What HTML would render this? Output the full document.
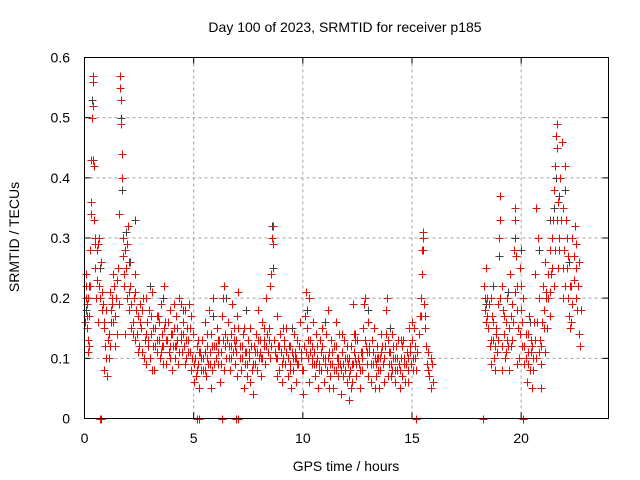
<!DOCTYPE html>
<html><head><meta charset="utf-8"><style>
body{margin:0;background:#fff}
svg{display:block;font-family:"Liberation Sans",sans-serif}
</style></head><body>
<svg id="chart" width="640" height="480">
<text x="345" y="32" font-size="14" text-anchor="middle" fill="#000">Day 100 of 2023, SRMTID for receiver p185</text>
<text x="346" y="471" font-size="14" text-anchor="middle" fill="#000">GPS time / hours</text>
<text transform="translate(19,237) rotate(-90)" font-size="14" text-anchor="middle" fill="#000">SRMTID / TECUs</text>
<g id="grid"></g>
<g id="ticks"></g>
<g id="gray"></g>
<g id="red"></g>
<rect x="84.5" y="57.5" width="524" height="361" fill="none" stroke="#000" stroke-width="1"/>
</svg>
<script>
const xTicks=[0,5,10,15,20];
const yTicks=[0,0.1,0.2,0.3,0.4,0.5,0.6];
const yTickLabels=["0","0.1","0.2","0.3","0.4","0.5","0.6"];
const redA=[[0.02,0.16],[0.05,0.22],[0.08,0.24],[0.1,0.15],[0.12,0.19],[0.15,0.13],[0.18,0.2],[0.2,0.17],[0.22,0.12],[0.25,0.28],[0.28,0.34],[0.3,0.36],[0.32,0.43],[0.35,0.5],[0.37,0.57],[0.38,0.56],[0.4,0.52],[0.42,0.42],[0.45,0.33],[0.48,0.25],[0.5,0.3],[0.55,0.28],[0.6,0.29],[0.65,0.22],[0.7,0.2],[0.75,0.26],[0.8,0.18],[0.85,0.19],[0.9,0.15],[0.95,0.12],[1.0,0.1],[1.05,0.07],[1.1,0.14],[1.15,0.21],[1.2,0.18],[1.25,0.2],[1.3,0.16],[1.35,0.22],[1.4,0.12],[1.45,0.2],[1.5,0.14],[1.55,0.25],[1.6,0.34],[1.62,0.57],[1.64,0.55],[1.66,0.53],[1.68,0.49],[1.7,0.44],[1.72,0.4],[1.75,0.3],[1.78,0.27],[1.8,0.22],[1.85,0.28],[1.9,0.25],[1.95,0.2],[2.0,0.32],[2.05,0.18],[2.1,0.22],[2.15,0.15],[2.2,0.16],[2.25,0.2],[2.3,0.13],[2.35,0.18],[2.4,0.14],[2.45,0.17],[2.5,0.12],[2.55,0.19],[0.15,0.11],[0.6,0.16],[0.9,0.08],[1.1,0.1],[1.3,0.24],[1.85,0.14],[2.05,0.26],[2.3,0.24]];
const redB=[[2.6,0.15],[2.65,0.11],[2.7,0.2],[2.75,0.13],[2.8,0.09],[2.85,0.16],[2.9,0.12],[2.95,0.18],[3.0,0.1],[3.05,0.14],[3.1,0.21],[3.15,0.12],[3.2,0.08],[3.25,0.15],[3.3,0.11],[3.35,0.17],[3.4,0.13],[3.45,0.1],[3.5,0.19],[3.55,0.14],[3.6,0.12],[3.65,0.22],[3.7,0.16],[3.75,0.09],[3.8,0.13],[3.85,0.11],[3.9,0.18],[3.95,0.14],[4.0,0.08],[4.05,0.12],[4.1,0.15],[4.15,0.1],[4.2,0.17],[4.25,0.13],[4.3,0.09],[4.35,0.2],[4.4,0.14],[4.45,0.11],[4.5,0.16],[4.55,0.12],[4.6,0.18],[4.65,0.1],[4.7,0.15],[4.75,0.13],[4.8,0.19],[4.85,0.11],[4.9,0.08],[4.95,0.14],[5.0,0.06],[5.05,0.1],[5.1,0.07],[5.15,0.12],[5.2,0.09],[5.25,0.05],[5.3,0.11],[5.35,0.08],[5.4,0.13],[5.45,0.1],[5.5,0.16],[5.55,0.07],[5.6,0.12],[5.65,0.09],[5.7,0.18],[5.75,0.11],[5.8,0.14],[5.85,0.08],[5.9,0.2],[5.95,0.12],[6.0,0.1],[6.05,0.15],[6.1,0.09],[6.15,0.13],[6.2,0.06],[6.25,0.11],[6.3,0.17],[6.35,0.2],[6.4,0.22],[6.45,0.14],[6.5,0.1],[6.55,0.16],[6.6,0.12],[6.65,0.08],[6.7,0.14],[6.75,0.19],[6.8,0.11],[6.85,0.15],[6.9,0.09],[6.95,0.13],[7.0,0.17],[7.05,0.21],[7.1,0.12],[7.15,0.08],[7.2,0.1],[7.25,0.14],[7.3,0.05],[7.35,0.09],[7.4,0.11],[7.45,0.07],[7.5,0.13],[7.55,0.1],[7.6,0.15],[7.65,0.08],[7.7,0.04],[7.75,0.12],[7.8,0.09],[7.85,0.14],[7.9,0.11],[7.95,0.18],[8.0,0.1],[8.05,0.13],[8.1,0.07],[8.15,0.16],[8.2,0.12],[8.25,0.09],[8.3,0.2],[8.35,0.14],[8.4,0.11],[8.45,0.15],[8.5,0.22],[8.55,0.24],[8.6,0.3],[8.62,0.32],[8.65,0.29],[8.7,0.13],[8.75,0.1],[8.8,0.17],[8.85,0.12],[8.9,0.08],[8.95,0.14],[9.0,0.11],[9.05,0.06],[9.1,0.1],[9.15,0.13],[9.2,0.09],[9.25,0.15],[9.3,0.07],[9.35,0.12],[9.4,0.09],[9.45,0.05],[9.5,0.11],[9.55,0.08],[9.6,0.14],[9.65,0.1],[9.7,0.06],[9.75,0.13],[9.8,0.09],[9.85,0.16],[9.9,0.11],[9.95,0.08],[10.0,0.04],[10.05,0.12],[10.1,0.17],[10.15,0.21],[10.2,0.15],[10.25,0.1],[10.3,0.2],[10.35,0.13],[10.4,0.09],[10.45,0.16],[10.5,0.11],[10.55,0.07],[10.6,0.14],[10.65,0.1],[10.7,0.05],[10.75,0.09],[10.8,0.13],[10.85,0.08],[10.9,0.12],[10.95,0.06],[11.0,0.1],[11.05,0.14],[11.1,0.08],[11.15,0.18],[11.2,0.11],[11.25,0.07],[11.3,0.13],[11.35,0.09],[11.4,0.05],[11.45,0.12],[11.5,0.16],[11.55,0.1],[11.6,0.07],[11.65,0.14],[11.7,0.09],[11.75,0.04],[11.8,0.11],[11.85,0.07],[11.9,0.13],[11.95,0.1],[12.0,0.06],[12.05,0.09],[12.1,0.03],[12.15,0.08],[12.2,0.12],[12.25,0.06],[12.3,0.19],[12.35,0.14],[12.4,0.1],[12.45,0.07],[12.5,0.13],[12.55,0.09],[12.6,0.05],[12.65,0.11],[12.7,0.08],[12.75,0.15],[12.8,0.19],[12.85,0.2],[12.9,0.12],[12.95,0.09],[13.0,0.16],[13.05,0.11],[13.1,0.06],[13.15,0.13],[13.2,0.09],[13.25,0.15],[13.3,0.1],[13.35,0.07],[13.4,0.12],[13.45,0.08],[13.5,0.05],[13.55,0.1],[13.6,0.14],[13.65,0.09],[13.7,0.06],[13.75,0.12],[13.8,0.18],[13.85,0.2],[13.9,0.13],[13.95,0.09],[14.0,0.11],[14.05,0.07],[14.1,0.14],[14.15,0.1],[14.2,0.06],[14.25,0.12],[14.3,0.08],[14.35,0.13],[14.4,0.09],[14.45,0.05],[14.5,0.1],[14.55,0.07],[14.6,0.13],[14.65,0.09],[14.7,0.06],[14.75,0.11],[14.8,0.08],[14.85,0.15],[14.9,0.12],[14.95,0.09],[15.0,0.13],[15.05,0.1],[15.1,0.15],[15.15,0.12],[15.2,0.08],[15.25,0.11],[15.3,0.14],[15.35,0.17],[15.4,0.2],[15.45,0.24],[15.48,0.28],[15.5,0.31],[15.52,0.3],[15.55,0.19],[15.6,0.15],[15.65,0.12],[15.7,0.09],[15.75,0.11],[15.8,0.07],[15.85,0.05],[15.9,0.09],[15.95,0.06]];
const redC=[[2.8,0.2],[3.1,0.08],[3.3,0.17],[3.6,0.09],[3.9,0.1],[4.2,0.12],[4.4,0.19],[4.6,0.09],[4.9,0.17],[5.2,0.13],[5.5,0.08],[5.8,0.05],[6.1,0.13],[6.4,0.08],[6.7,0.1],[7.0,0.07],[7.3,0.15],[7.6,0.06],[7.9,0.08],[8.2,0.15],[8.5,0.1],[8.8,0.07],[9.1,0.15],[9.4,0.12],[9.7,0.1],[10.0,0.08],[10.3,0.06],[10.6,0.09],[10.9,0.15],[11.2,0.05],[11.5,0.08],[11.8,0.14],[12.1,0.1],[12.2,0.05],[12.4,0.13],[12.7,0.11],[13.0,0.07],[13.3,0.05],[13.6,0.11],[13.9,0.07],[14.2,0.1],[14.5,0.13],[14.8,0.06],[15.0,0.16],[3.5,0.11],[4.1,0.19],[5.6,0.1],[6.9,0.12],[8.1,0.1],[9.3,0.1],[10.4,0.12],[11.6,0.1],[12.0,0.12],[12.3,0.09],[13.4,0.1],[14.1,0.08]];
const redE=[[0.07,0.2],[0.13,0.17],[0.27,0.22],[0.47,0.29],[0.52,0.2],[0.57,0.23],[0.68,0.3],[0.78,0.21],[0.88,0.16],[0.98,0.18],[1.08,0.13],[1.18,0.12],[1.28,0.19],[1.38,0.17],[1.48,0.23],[1.58,0.19],[1.83,0.24],[1.93,0.29],[2.03,0.21],[2.13,0.19],[2.23,0.14],[2.33,0.21],[2.43,0.11],[2.53,0.16],[2.63,0.18],[2.73,0.1],[2.83,0.14],[2.93,0.13],[3.03,0.17],[3.13,0.15],[3.23,0.12],[3.33,0.13],[3.43,0.16],[3.53,0.12],[3.63,0.15],[3.73,0.13],[3.83,0.16],[3.93,0.12],[4.03,0.14],[4.13,0.12],[4.23,0.15],[4.33,0.11],[4.43,0.13],[4.53,0.14],[4.63,0.13],[4.73,0.11],[4.83,0.15],[4.93,0.1],[5.03,0.09],[5.13,0.08],[5.23,0.11],[5.33,0.1],[5.43,0.08],[5.53,0.11],[5.63,0.14],[5.73,0.09],[5.83,0.12],[5.93,0.09],[6.03,0.12],[6.13,0.11],[6.23,0.09],[6.33,0.13],[6.43,0.12],[6.53,0.13],[6.63,0.1],[6.73,0.12],[6.83,0.13],[6.93,0.11],[7.03,0.15],[7.13,0.1],[7.23,0.12],[7.33,0.11],[7.43,0.09],[7.53,0.11],[7.63,0.12],[7.73,0.09],[7.83,0.11],[7.93,0.13],[8.03,0.11],[8.13,0.1],[8.23,0.13],[8.33,0.12],[8.43,0.13],[8.53,0.12],[8.73,0.11],[8.83,0.1],[8.93,0.12],[9.03,0.09],[9.13,0.12],[9.23,0.11],[9.33,0.1],[9.43,0.08],[9.53,0.1],[9.63,0.11],[9.73,0.09],[9.83,0.12],[9.93,0.1],[10.03,0.08],[10.13,0.11],[10.23,0.13],[10.33,0.11],[10.43,0.1],[10.53,0.09],[10.63,0.12],[10.73,0.08],[10.83,0.11],[10.93,0.1],[11.03,0.09],[11.13,0.1],[11.23,0.09],[11.33,0.11],[11.43,0.08],[11.53,0.12],[11.63,0.09],[11.73,0.08],[11.83,0.09],[11.93,0.08],[12.03,0.1],[12.13,0.07],[12.23,0.09],[12.33,0.11],[12.43,0.09],[12.53,0.1],[12.63,0.08],[12.73,0.1],[12.83,0.13],[12.93,0.11],[13.03,0.12],[13.13,0.09],[13.23,0.11],[13.33,0.09],[13.43,0.1],[13.53,0.08],[13.63,0.12],[13.73,0.1],[13.83,0.14],[13.93,0.11],[14.03,0.09],[14.13,0.12],[14.23,0.08],[14.33,0.1],[14.43,0.08],[14.53,0.12],[14.63,0.1],[14.73,0.09],[14.83,0.1],[14.93,0.11],[15.03,0.08],[15.13,0.1],[15.43,0.17],[15.58,0.17],[15.73,0.08],[15.88,0.1],[18.33,0.2],[18.43,0.17],[18.53,0.19],[18.63,0.13],[18.73,0.16],[18.83,0.15],[18.93,0.13],[19.03,0.2],[19.13,0.12],[19.23,0.17],[19.33,0.13],[19.43,0.15],[19.53,0.12],[19.63,0.16],[19.73,0.21],[19.83,0.18],[19.93,0.14],[20.03,0.16],[20.13,0.12],[20.23,0.1],[20.33,0.09],[20.43,0.11],[20.53,0.08],[20.63,0.13],[20.73,0.16],[20.83,0.11],[20.93,0.12],[21.03,0.15],[21.13,0.2],[21.23,0.24],[21.33,0.21],[21.43,0.25],[21.53,0.28],[21.63,0.33],[21.73,0.28],[21.83,0.33],[21.93,0.25],[22.03,0.22],[22.13,0.27],[22.23,0.22],[22.33,0.19],[22.43,0.23],[22.53,0.29],[22.63,0.26],[22.73,0.18]];
const redD=[[18.3,0.22],[18.35,0.18],[18.4,0.25],[18.45,0.2],[18.5,0.15],[18.55,0.12],[18.6,0.09],[18.65,0.17],[18.7,0.13],[18.75,0.1],[18.8,0.08],[18.85,0.14],[18.9,0.11],[18.95,0.19],[19.0,0.3],[19.02,0.37],[19.05,0.33],[19.1,0.22],[19.15,0.18],[19.2,0.14],[19.25,0.1],[19.3,0.16],[19.35,0.2],[19.4,0.12],[19.45,0.08],[19.5,0.24],[19.55,0.17],[19.6,0.13],[19.65,0.28],[19.7,0.35],[19.72,0.33],[19.75,0.27],[19.8,0.22],[19.85,0.15],[19.9,0.1],[19.95,0.25],[20.0,0.18],[20.05,0.12],[20.1,0.2],[20.15,0.09],[20.2,0.14],[20.25,0.06],[20.3,0.11],[20.35,0.17],[20.4,0.08],[20.45,0.13],[20.5,0.05],[20.55,0.1],[20.6,0.16],[20.65,0.24],[20.7,0.35],[20.75,0.3],[20.8,0.2],[20.85,0.13],[20.9,0.09],[20.95,0.16],[21.0,0.22],[21.05,0.18],[21.1,0.26],[21.15,0.21],[21.2,0.15],[21.25,0.2],[21.3,0.28],[21.35,0.24],[21.4,0.3],[21.45,0.33],[21.5,0.38],[21.55,0.42],[21.6,0.47],[21.62,0.49],[21.65,0.45],[21.7,0.36],[21.75,0.3],[21.8,0.4],[21.85,0.46],[21.9,0.35],[21.95,0.28],[22.0,0.42],[22.05,0.33],[22.1,0.25],[22.15,0.2],[22.2,0.17],[22.25,0.15],[22.3,0.22],[22.35,0.3],[22.4,0.27],[22.45,0.32],[22.5,0.25],[22.55,0.18],[22.6,0.22],[22.65,0.14],[22.7,0.12],[18.4,0.16],[18.6,0.2],[18.8,0.12],[19.1,0.08],[19.3,0.11],[19.6,0.19],[19.8,0.09],[20.0,0.22],[20.3,0.14],[20.5,0.12],[20.7,0.1],[20.9,0.05],[21.1,0.11],[21.3,0.17],[21.5,0.22],[21.7,0.25],[21.9,0.2],[22.1,0.3],[22.3,0.16],[22.5,0.2]];
const grayPts=[[0.05,0.18],[0.2,0.22],[0.35,0.53],[0.4,0.43],[0.7,0.25],[1.2,0.16],[1.65,0.5],[1.7,0.38],[1.9,0.31],[2.1,0.26],[2.3,0.33],[3.0,0.22],[3.6,0.2],[4.5,0.18],[5.9,0.17],[6.5,0.2],[7.4,0.18],[8.6,0.32],[8.65,0.25],[9.5,0.15],[10.2,0.18],[11.0,0.16],[12.4,0.14],[13.0,0.18],[14.0,0.15],[15.5,0.28],[18.4,0.19],[18.7,0.22],[19.0,0.27],[19.4,0.21],[19.7,0.3],[20.0,0.28],[20.4,0.16],[20.8,0.28],[21.3,0.33],[21.5,0.35],[21.6,0.4],[21.75,0.37],[22.0,0.38],[22.2,0.26],[22.5,0.2]];
const zeroPts=[[0.7,0],[0.75,0],[5.15,0],[5.25,0],[6.3,0],[6.95,0],[7.05,0],[15.2,0],[18.25,0],[20.1,0]];

const X0=84.5,X1=608.5,Y0=418.5,Y1=57.5;
function xs(t){return X0+(t/24)*(X1-X0);}
function ys(v){return Y0-(v/0.6)*(Y0-Y1);}
const NS="http://www.w3.org/2000/svg";
const grid=document.getElementById('grid'),ticks=document.getElementById('ticks');
xTicks.forEach(t=>{
  const x=xs(t);
  if(t>0){const l=document.createElementNS(NS,'line');
  
  
  l.setAttribute('x1',x);l.setAttribute('x2',x);l.setAttribute('y1',Y1);l.setAttribute('y2',Y0);
  l.setAttribute('stroke','#a0a0a0');l.setAttribute('stroke-dasharray','3,3');grid.appendChild(l);}
  const tk=document.createElementNS(NS,'path');
  
  
  tk.setAttribute('d',`M${x},${Y0}v-6M${x},${Y1}v6`);tk.setAttribute('stroke','#000');ticks.appendChild(tk);
  const tx=document.createElementNS(NS,'text');
  
  
  tx.setAttribute('x',x);tx.setAttribute('y',443);tx.setAttribute('font-size','14');tx.setAttribute('text-anchor','middle');
  tx.textContent=String(t);ticks.appendChild(tx);
});
yTicks.forEach((v,i)=>{
  const y=ys(v);
  if(v>0&&v<0.6){const l=document.createElementNS(NS,'line');
  
  
  l.setAttribute('x1',X0);l.setAttribute('x2',X1);l.setAttribute('y1',y);l.setAttribute('y2',y);
  l.setAttribute('stroke','#a0a0a0');l.setAttribute('stroke-dasharray','3,3');grid.appendChild(l);}
  const tk=document.createElementNS(NS,'path');
  
  
  tk.setAttribute('d',`M${X0},${y}h6M${X1},${y}h-6`);tk.setAttribute('stroke','#000');ticks.appendChild(tk);
  const tx=document.createElementNS(NS,'text');
  
  
  tx.setAttribute('x',70);tx.setAttribute('y',y+5);tx.setAttribute('font-size','14');tx.setAttribute('text-anchor','end');
  tx.textContent=yTickLabels[i];ticks.appendChild(tx);
});
function plot(pts,gid,color,name){
  const g=document.getElementById(gid);let d='';
  pts.forEach(p=>{const x=Math.round(xs(p[0]))+0.5,y=Math.round(ys(p[1]))+0.5;d+=`M${x-4},${y}h8M${x},${y-4}v8`;});
  const path=document.createElementNS(NS,'path');
  
  
  path.setAttribute('d',d);path.setAttribute('stroke',color);path.setAttribute('stroke-width','1');path.setAttribute('fill','none');
  g.appendChild(path);
}
plot(grayPts,'gray','#404040','gray-points');
plot(redA,'red','#ff0000','red-points-early');
plot(redB,'red','#ff0000','red-points-main');
plot(redC,'red','#ff0000','red-points-extra');
plot(redE,'red','#ff0000','red-points-fill');
plot(redD,'red','#ff0000','red-points-late');
plot(zeroPts,'red','#ff0000','zero-points');
</script>
</body></html>
